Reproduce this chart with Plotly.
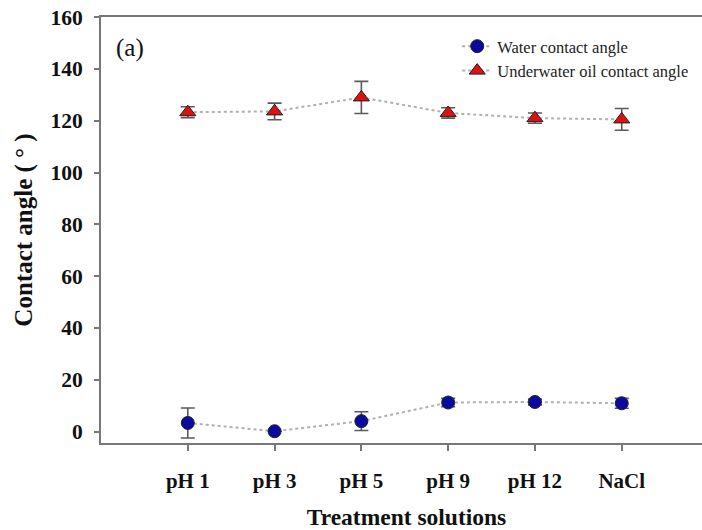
import plotly.graph_objects as go

categories = ["pH 1", "pH 3", "pH 5", "pH 9", "pH 12", "NaCl"]
x_pos = [1, 2, 3, 4, 5, 6]
water = [3.3, 0.1, 4.0, 11.2, 11.4, 10.9]
water_err = [5.8, 0.0, 3.6, 1.6, 1.1, 1.9]
oil = [123.3, 123.6, 129.0, 123.0, 121.0, 120.5]
oil_err = [2.1, 3.2, 6.2, 2.0, 2.0, 4.2]
y_ticks = [0, 20, 40, 60, 80, 100, 120, 140, 160]

FONT = "Liberation Serif"
err_style = dict(type="data", thickness=1.6, width=7, color="#5a5a5a")

fig = go.Figure()
fig.add_trace(go.Scatter(
    x=x_pos, y=water, name="Water contact angle", mode="lines+markers",
    line=dict(color="#b0b0b0", width=2, dash="dot"),
    marker=dict(symbol="circle", size=13, color="#0a0aa0", line=dict(color="#222", width=1)),
    error_y=dict(array=water_err, **err_style),
))
fig.add_trace(go.Scatter(
    x=x_pos, y=oil, name="Underwater oil contact angle", mode="lines+markers",
    line=dict(color="#b0b0b0", width=2, dash="dot"),
    marker=dict(symbol="triangle-up", size=14, color="#e01010", line=dict(color="#222", width=1)),
    error_y=dict(array=oil_err, **err_style),
))

fig.add_annotation(text="(a)", x=0.047, y=0.927, xref="paper", yref="paper",
                   xanchor="center", yanchor="middle", showarrow=False,
                   font=dict(family=FONT, size=25, color="#111"))

fig.update_layout(
    width=712, height=530,
    margin=dict(l=101, r=0, t=17, b=87, autoexpand=False),
    plot_bgcolor="white", paper_bgcolor="white",
    font=dict(family=FONT, color="#111"),
    showlegend=True,
    legend=dict(x=0.583, y=0.972, xanchor="left", yanchor="top",
                bgcolor="rgba(0,0,0,0)", font=dict(family=FONT, size=16.5, color="#222"),
                tracegroupgap=0),
    xaxis=dict(
        range=[0, 7.04], tickmode="array", tickvals=x_pos,
        ticktext=[f"<b>{c}</b>" for c in categories],
        showgrid=False, zeroline=False, showline=True, linecolor="#777", linewidth=2,
        mirror=True,
        ticks="outside", ticklen=6, tickcolor="#777", tickwidth=2,
        ticklabelstandoff=12, automargin=False,
        tickfont=dict(family=FONT, size=21, color="#111"),
        title=dict(text="<b>Treatment solutions</b>", font=dict(family=FONT, size=23.5, color="#111"), standoff=23),
    ),
    yaxis=dict(
        range=[-4.44, 160.05], tickmode="array", tickvals=y_ticks,
        ticktext=[f"<b>{t}</b>" for t in y_ticks],
        showgrid=False, zeroline=False, showline=True, linecolor="#777", linewidth=2,
        mirror=False,
        ticks="outside", ticklen=5, tickcolor="#777", tickwidth=2,
        ticklabelstandoff=7, automargin=False, ticklabeloverflow="allow",
        tickfont=dict(family=FONT, size=21.5, color="#111"),
        title=dict(text="<b>Contact angle ( ° )</b>", font=dict(family=FONT, size=25, color="#111"), standoff=11),
    ),
)
fig.write_html("out.html", config={"displayModeBar": False},
               post_script="document.body.style.margin='0px';document.body.style.overflow='hidden';")
